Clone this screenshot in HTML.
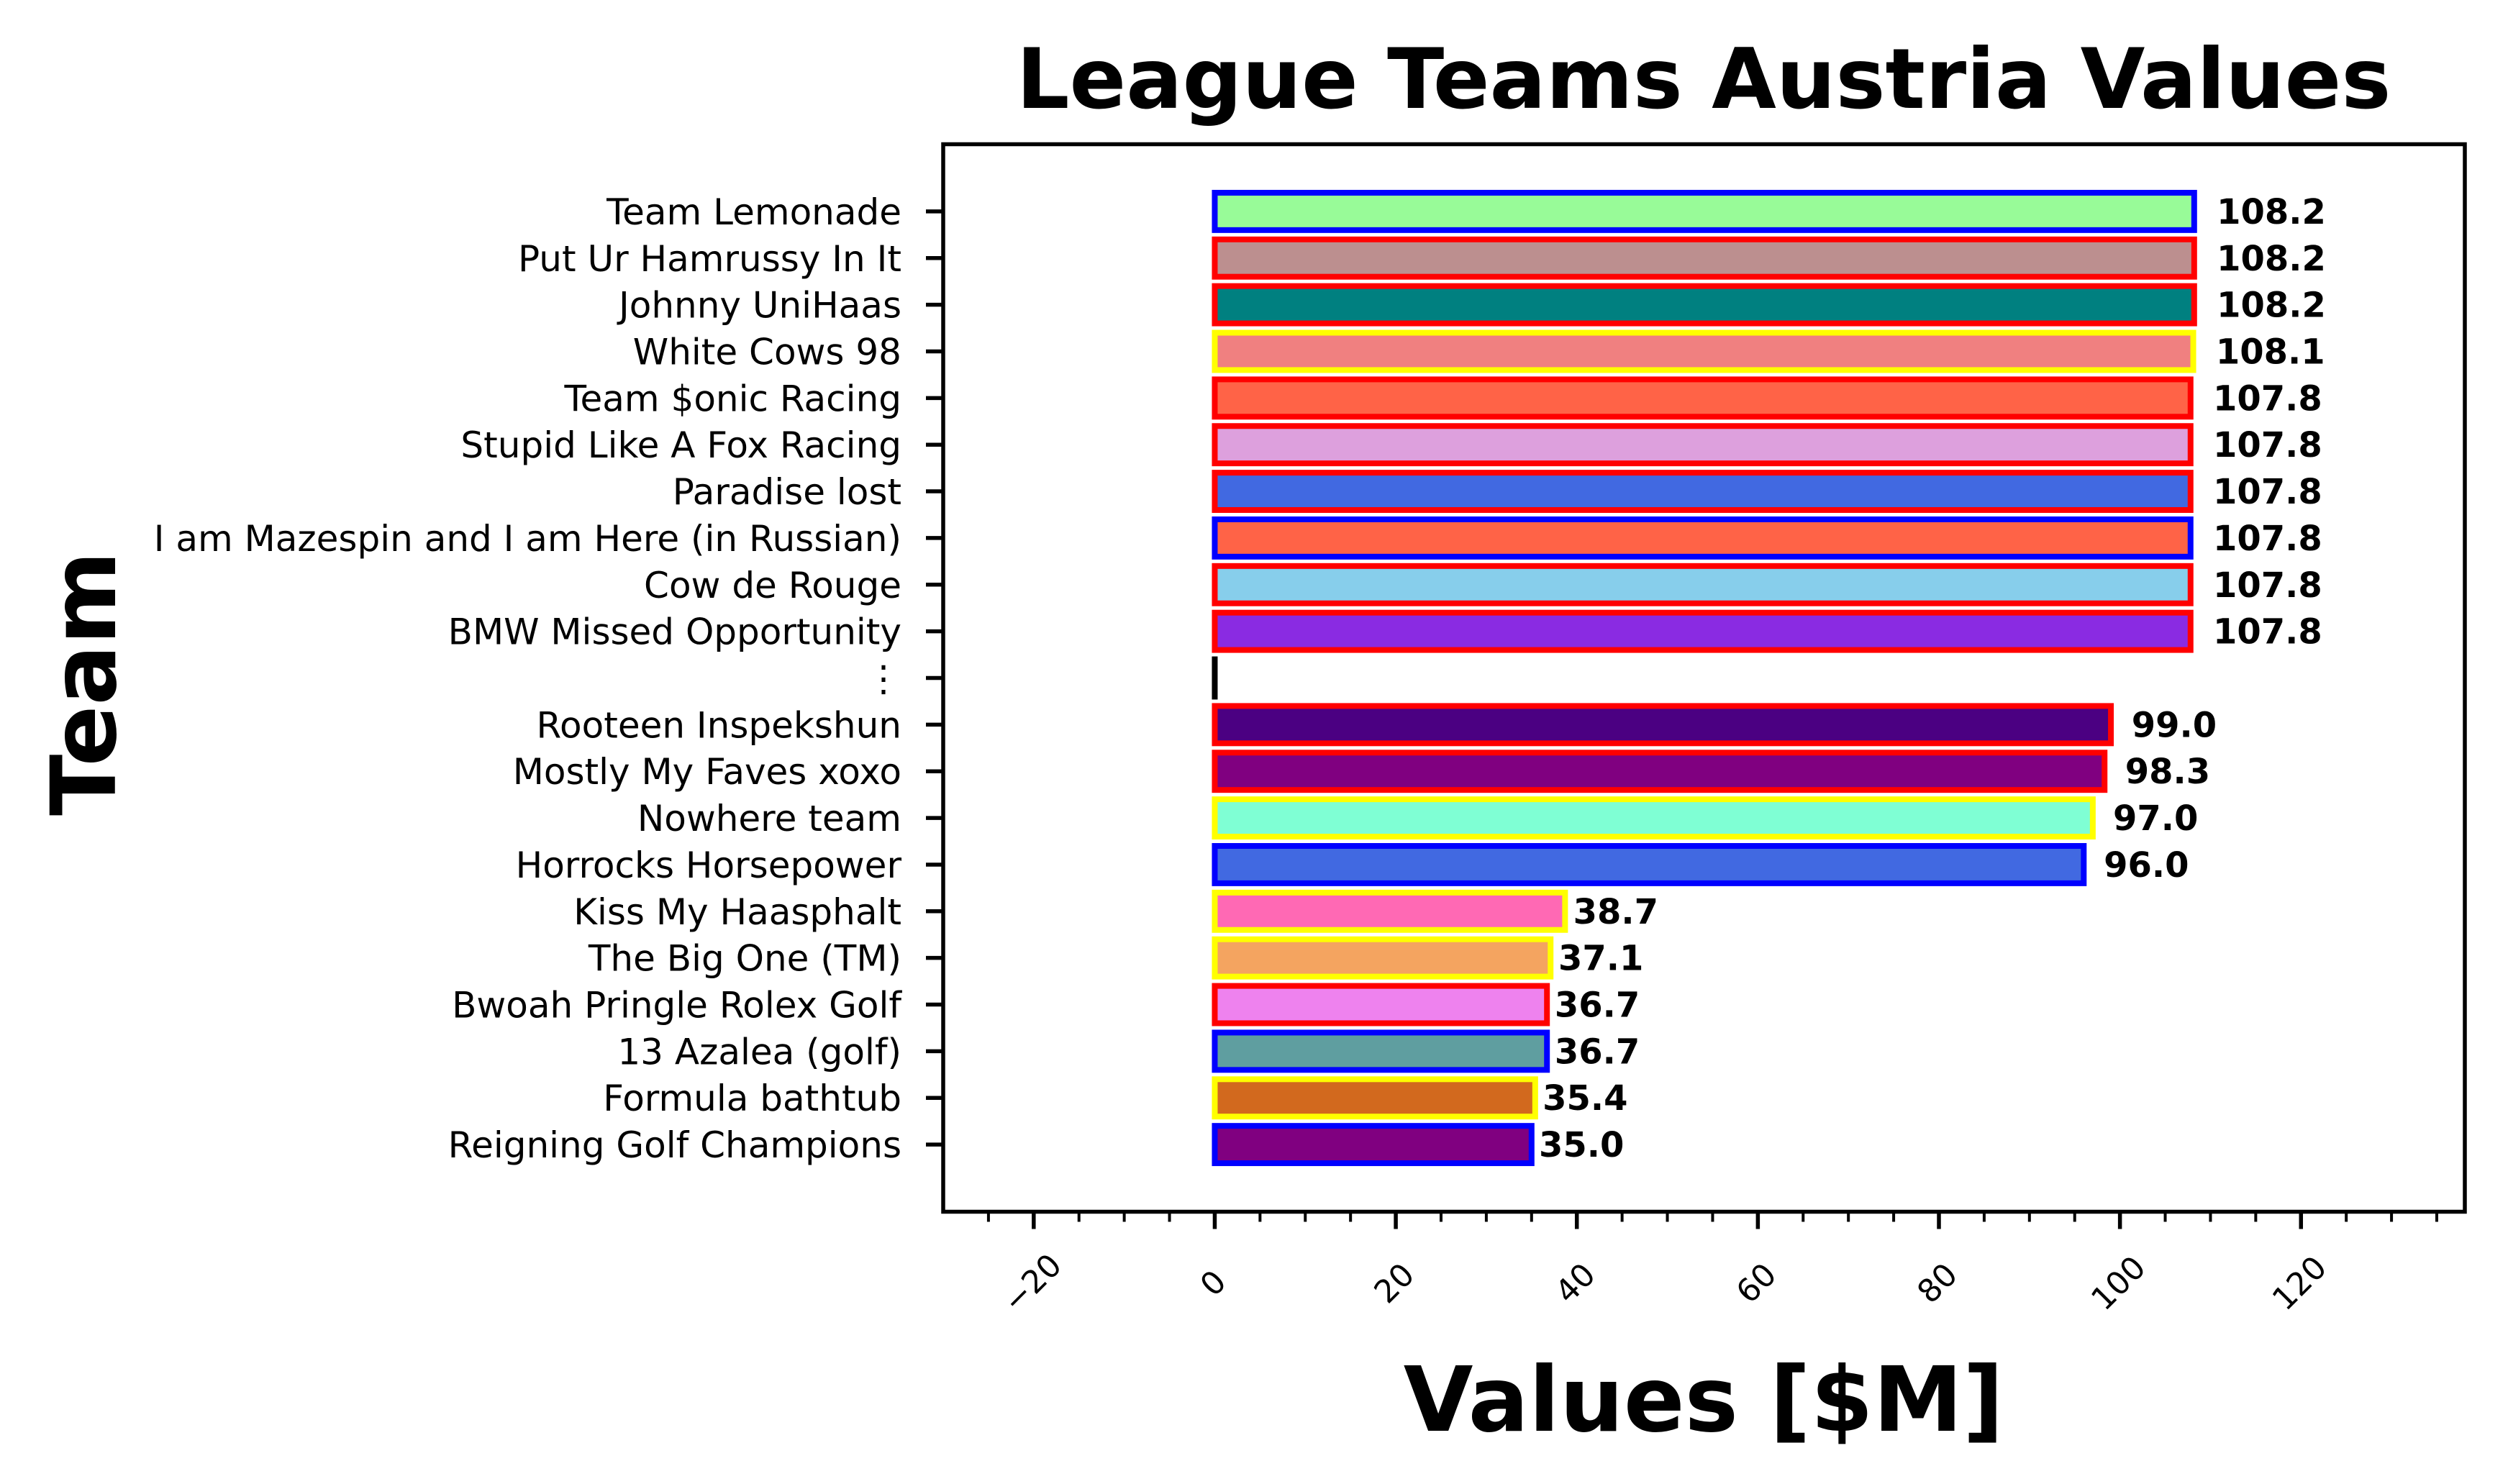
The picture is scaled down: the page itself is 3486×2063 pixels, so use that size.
<!DOCTYPE html>
<html><head><meta charset="utf-8"><style>
html,body{margin:0;padding:0;background:#fff;}
svg{display:block;font-family:"DejaVu Sans","Liberation Sans",sans-serif;}
</style></head><body>
<svg id="chart" width="3486" height="2063" viewBox="0 0 3486 2063" xmlns="http://www.w3.org/2000/svg">
<rect x="0" y="0" width="3486" height="2063" fill="#fff"/>
<text x="2368" y="150" text-anchor="middle" font-size="116" font-weight="bold">League Teams Austria Values</text>
<text x="2368" y="1989" text-anchor="middle" font-size="125" font-weight="bold">Values [$M]</text>
<text transform="translate(160,950) rotate(-90)" text-anchor="middle" font-size="125" font-weight="bold">Team</text>
<g id="bars"></g>
<g id="yticks"></g>
<g id="xticks"></g>
<rect x="1311" y="200.5" width="2115" height="1484" fill="none" stroke="#000" stroke-width="5.5"/>
</svg>
<script>
const teams = ["Team Lemonade","Put Ur Hamrussy In It","Johnny UniHaas","White Cows 98","Team $onic Racing","Stupid Like A Fox Racing","Paradise lost","I am Mazespin and I am Here (in Russian)","Cow de Rouge","BMW Missed Opportunity","\u22EE","Rooteen Inspekshun","Mostly My Faves xoxo","Nowhere team","Horrocks Horsepower","Kiss My Haasphalt","The Big One (TM)","Bwoah Pringle Rolex Golf","13 Azalea (golf)","Formula bathtub","Reigning Golf Champions"];
const values = [108.2,108.2,108.2,108.1,107.8,107.8,107.8,107.8,107.8,107.8,0,99.0,98.3,97.0,96.0,38.7,37.1,36.7,36.7,35.4,35.0];
const valueLabels = ["108.2","108.2","108.2","108.1","107.8","107.8","107.8","107.8","107.8","107.8","","99.0","98.3","97.0","96.0","38.7","37.1","36.7","36.7","35.4","35.0"];
const fills = ["#98FB98","#BC8F8F","#008080","#F08080","#FF6347","#DDA0DD","#4169E1","#FF6347","#87CEEB","#8A2BE2","none","#4B0082","#800080","#7FFFD4","#4169E1","#FF69B4","#F4A460","#EE82EE","#5F9EA0","#D2691E","#800080"];
const edges = ["#0000FF","#FF0000","#FF0000","#FFFF00","#FF0000","#FF0000","#FF0000","#0000FF","#FF0000","#FF0000","#000000","#FF0000","#FF0000","#FFFF00","#0000FF","#FFFF00","#FFFF00","#FF0000","#0000FF","#FFFF00","#0000FF"];
const xTickValues = [-20,0,20,40,60,80,100,120];
const xTickLabels = ["\u221220","0","20","40","60","80","100","120"];

const NS = "http://www.w3.org/2000/svg";
const X0 = 1311, X1 = 3426, XMIN = -30, XMAX = 138.1;
const Y0 = 200.5, Y1 = 1684.5, YMIN = -1.44, YMAX = 21.44;
function xs(v){ return X0 + (v - XMIN) / (XMAX - XMIN) * (X1 - X0); }
function ys(i){ return Y0 + (i - YMIN) / (YMAX - YMIN) * (Y1 - Y0); }
function mk(tag, attrs, parent){ const e = document.createElementNS(NS, tag); for (const k in attrs) e.setAttribute(k, attrs[k]); parent.appendChild(e); return e; }

const barsG = document.getElementById('bars');
const yG = document.getElementById('yticks');
const xG = document.getElementById('xticks');
const bh = 0.8 * (ys(1) - ys(0));

teams.forEach((t, i) => {
  const yc = ys(i);
  const x0 = xs(0), x1 = xs(values[i]);
  const w = Math.max(Math.abs(x1 - x0), 0.01);
  const r = mk('rect', {x: Math.min(x0, x1), y: yc - bh/2, width: w, height: bh, fill: fills[i], stroke: edges[i], 'stroke-width': 8}, barsG);
  
  
  if (valueLabels[i]) {
    const tx = mk('text', {x: xs(values[i] * 1.023), y: yc + 17, 'font-size': 48, 'font-weight': 'bold'}, barsG);
    tx.textContent = valueLabels[i];
    
    
  }
  const tk = mk('line', {x1: X0 - 24, x2: X0, y1: yc, y2: yc, stroke: '#000', 'stroke-width': 5.5}, yG);
  
  
  const lb = mk('text', {x: X0 - 58, y: yc + 18, 'font-size': 50, 'text-anchor': 'end'}, yG);
  lb.textContent = t;
  
  
});

for (let v = -25; v <= 135; v += 5) {
  if (v % 20 === 0) continue;
  const m = mk('line', {x1: xs(v), x2: xs(v), y1: Y1, y2: Y1 + 14, stroke: '#000', 'stroke-width': 4}, xG);
  
  
}
xTickValues.forEach((v, k) => {
  const px = xs(v);
  const t = mk('line', {x1: px, x2: px, y1: Y1, y2: Y1 + 24, stroke: '#000', 'stroke-width': 5.5}, xG);
  
  
  const lb = mk('text', {transform: 'translate(' + px + ',1786) rotate(-45)', 'font-size': 44, 'text-anchor': 'middle', 'dominant-baseline': 'middle'}, xG);
  lb.textContent = xTickLabels[k];
  
  
});
</script>
</body></html>
